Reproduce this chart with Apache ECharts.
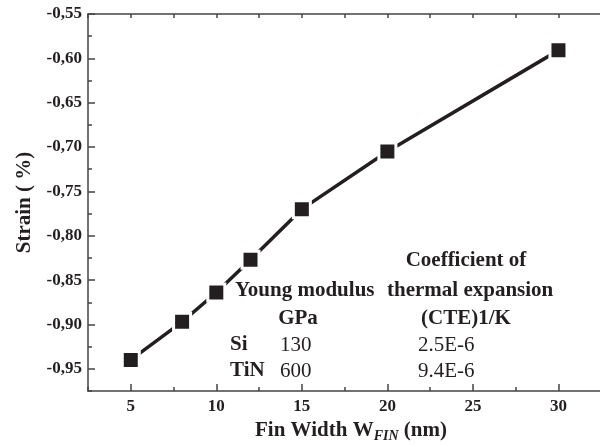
<!DOCTYPE html>
<html>
<head>
<meta charset="utf-8">
<script src="https://cdn.jsdelivr.net/npm/echarts@6/dist/echarts.min.js"></script>
<style>
  html, body { margin: 0; padding: 0; background: #fff; }
  #chart { width: 600px; height: 447px; }
</style>
</head>
<body>
<div id="chart"></div>
<script>
// fin width (nm) and strain (%)
const finWidth = [5, 8, 10, 12, 15, 20, 30]
const strain = [-0.940, -0.897, -0.864, -0.827, -0.770, -0.705, -0.591]

const xMajorTicks = [5, 10, 15, 20, 25, 30, 35]
const yMajorTicks = [-0.95, -0.9, -0.85, -0.8, -0.75, -0.7, -0.65, -0.6, -0.55]

// material table drawn inside the plot
const tableHeader = ['Coefficient of', 'Young modulus', 'thermal expansion', 'GPa', '(CTE)1/K']
const materials = ['Si', 'TiN']
const youngModulus = ['130', '600']
const cte = ['2.5E-6', '9.4E-6']

const ink = '#231f20'
const axisColor = '#444'
const serif = '"Liberation Serif", "DejaVu Serif", serif'

const chart = echarts.init(document.getElementById('chart'), null, { renderer: 'canvas' })

function txt(text, x, y, align, bold) {
  return {
    type: 'text',
    x: x,
    y: y,
    style: {
      text: text,
      fill: ink,
      font: (bold ? 'bold ' : '') + '21px ' + serif,
      align: align,
      verticalAlign: 'middle',
    },
  }
}

const tableText = [
  txt(tableHeader[0], 466, 261, 'center', true),
  txt(tableHeader[1], 235, 291, 'left', true),
  txt(tableHeader[2], 387, 291, 'left', true),
  txt(tableHeader[3], 298, 319, 'center', true),
  txt(tableHeader[4], 466, 319, 'center', true),
]
materials.forEach((m, i) => {
  const y = 345 + i * 26
  tableText.push(txt(m, 230, y, 'left', true))
  tableText.push(txt(youngModulus[i], 280, y, 'left', false))
  tableText.push(txt(cte[i], 418, y, 'left', false))
})

const baseTick = { show: true, inside: true, lineStyle: { color: axisColor, width: 1.5 } }

const option = {
  backgroundColor: '#fff',
  animation: false,
  grid: { left: 88, top: 14, right: -44, bottom: 56, containLabel: false, outerBoundsMode: 'none' },
  xAxis: [
    {
      type: 'value',
      position: 'bottom',
      min: 2.5,
      max: 35,
      interval: 2.5,
      axisLine: { show: true, lineStyle: { color: axisColor, width: 1.5 } },
      axisTick: Object.assign({}, baseTick, { length: 7, customValues: xMajorTicks }),
      axisLabel: {
        customValues: xMajorTicks,
        margin: 7,
        color: ink,
        fontFamily: serif,
        fontWeight: 'bold',
        fontSize: 17,
      },
      splitLine: { show: false },
      name: 'Fin Width W{sub|FIN} (nm)',
      nameLocation: 'middle',
      nameGap: 18,
      nameTextStyle: {
        color: ink,
        fontFamily: serif,
        fontWeight: 'bold',
        fontSize: 21,
        padding: [0, 30, 0, 0],
        rich: {
          sub: {
            fontFamily: serif,
            fontWeight: 'bold',
            fontStyle: 'italic',
            fontSize: 14,
            color: ink,
            padding: [12, 0, 0, 0],
          },
        },
      },
    },
    {
      type: 'value',
      position: 'bottom',
      min: 2.5,
      max: 35,
      interval: 2.5,
      axisLine: { show: false },
      axisTick: Object.assign({}, baseTick, { length: 4 }),
      axisLabel: { show: false },
      splitLine: { show: false },
    },
    {
      type: 'value',
      position: 'top',
      min: 2.5,
      max: 35,
      interval: 2.5,
      axisLine: { show: true, lineStyle: { color: axisColor, width: 1.5 } },
      axisTick: Object.assign({}, baseTick, { length: 4 }),
      axisLabel: { show: false },
      splitLine: { show: false },
    },
  ],
  yAxis: [
    {
      type: 'value',
      position: 'left',
      min: -0.975,
      max: -0.55,
      interval: 0.025,
      axisLine: { show: true, lineStyle: { color: axisColor, width: 1.5 } },
      axisTick: Object.assign({}, baseTick, { length: 7, customValues: yMajorTicks }),
      axisLabel: {
        customValues: yMajorTicks,
        margin: 6,
        color: ink,
        fontFamily: serif,
        fontWeight: 'bold',
        fontSize: 17,
        formatter: (v) => v.toFixed(2).replace('.', ','),
      },
      splitLine: { show: false },
      name: 'Strain ( %)',
      nameLocation: 'middle',
      nameGap: 53,
      nameTextStyle: {
        color: ink,
        fontFamily: serif,
        fontWeight: 'bold',
        fontSize: 21,
      },
    },
    {
      type: 'value',
      position: 'left',
      min: -0.975,
      max: -0.55,
      interval: 0.025,
      axisLine: { show: false },
      axisTick: Object.assign({}, baseTick, { length: 4 }),
      axisLabel: { show: false },
      splitLine: { show: false },
    },
  ],
  series: [
    {
      type: 'line',
      xAxisIndex: 0,
      yAxisIndex: 0,
      data: finWidth.map((x, i) => [x, strain[i]]),
      symbol: 'rect',
      symbolSize: 17,
      showSymbol: true,
      lineStyle: { color: ink, width: 3.5 },
      itemStyle: { color: ink, borderColor: '#fff', borderWidth: 3 },
      z: 3,
    },
  ],
  graphic: tableText,
}

chart.setOption(option)
</script>
</body>
</html>
